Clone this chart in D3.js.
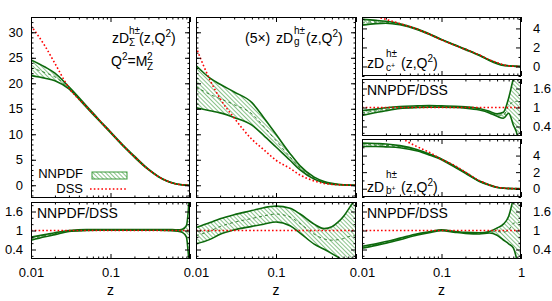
<!DOCTYPE html>
<html>
<head>
<meta charset="utf-8">
<script src="https://d3js.org/d3.v7.min.js"></script>
<style>
  body { margin: 0; background: #fff; }
  text { font-family: "Liberation Sans", Arial, sans-serif; fill: #000; }
</style>
</head>
<body>
<script>
// z grid shared by every curve
var zValues = [0.01, 0.015, 0.02, 0.03, 0.05, 0.07, 0.1, 0.15, 0.2, 0.3, 0.4, 0.5, 0.6, 0.7, 0.8, 0.9, 0.95, 1];

// singlet
var sigmaDSS     = [31.3, 27.3, 23.9, 19.1, 15.4, 12.95, 10.4, 7.5, 5.6, 3.1, 1.7, 0.9, 0.45, 0.2, 0.08, 0.02, 0.005, 0];
var sigmaHi      = [24.6, 23.2, 22.0, 19.3, 15.55, 13.05, 10.5, 7.6, 5.7, 3.15, 1.75, 0.93, 0.47, 0.21, 0.09, 0.03, 0.01, 0];
var sigmaLo      = [21.5, 21.0, 20.5, 18.9, 15.25, 12.85, 10.3, 7.4, 5.5, 3.05, 1.65, 0.87, 0.43, 0.19, 0.07, 0.015, 0.003, 0];
var sigmaRatioHi = [0.79, 0.87, 0.93, 1.0, 1.03, 1.03, 1.03, 1.03, 1.03, 1.03, 1.03, 1.03, 1.03, 1.02, 1.04, 1.15, 1.6, 2.5];
var sigmaRatioLo = [0.69, 0.8, 0.87, 0.97, 1.0, 1.01, 1.01, 1.01, 1.01, 1.01, 1.01, 1.0, 0.99, 0.98, 0.94, 0.8, 0.3, -0.5];

// gluon (x5)
var gluonDSS     = [27.1, 20.6, 17.0, 13.2, 9.0, 7.0, 4.9, 3.3, 2.0, 0.85, 0.35, 0.18, 0.1, 0.06, 0.03, 0.01, 0.005, 0];
var gluonHi      = [23.5, 21.0, 19.8, 18.3, 16.2, 13.3, 10.0, 6.2, 3.8, 1.6, 0.75, 0.38, 0.2, 0.1, 0.05, 0.02, 0.01, 0];
var gluonLo      = [15.2, 14.6, 14.2, 13.3, 11.8, 9.8, 7.5, 4.9, 3.0, 1.2, 0.5, 0.22, 0.1, 0.05, 0.02, 0.01, 0, 0];
var gluonRatioHi = [1.09, 1.25, 1.37, 1.5, 1.63, 1.72, 1.77, 1.7, 1.52, 1.2, 1.06, 1.12, 1.27, 1.45, 1.66, 1.85, 1.92, 1.95];
var gluonRatioLo = [0.58, 0.72, 0.88, 1.02, 1.13, 1.2, 1.27, 1.15, 0.92, 0.57, 0.41, 0.27, 0.15, 0.04, -0.05, -0.2, -0.25, -0.3];

// charm
var charmDSS     = [5.6, 5.25, 4.95, 4.5, 3.9, 3.4, 2.8, 2.2, 1.8, 1.2, 0.7, 0.4, 0.17, 0.08, 0.03, 0.01, 0.005, 0];
var charmHi      = [4.95, 4.85, 4.75, 4.5, 3.95, 3.45, 2.85, 2.25, 1.83, 1.2, 0.68, 0.36, 0.15, 0.08, 0.04, 0.02, 0.01, 0];
var charmLo      = [4.35, 4.5, 4.55, 4.38, 3.87, 3.38, 2.8, 2.2, 1.77, 1.15, 0.63, 0.3, 0.11, 0.06, 0.02, 0, -0.01, -0.02];
var charmRatioHi = [0.9, 0.95, 0.99, 1.03, 1.05, 1.06, 1.05, 1.04, 1.02, 0.97, 0.88, 0.8, 0.85, 1.3, 1.9, 2.3, 2.5, 2.6];
var charmRatioLo = [0.75, 0.84, 0.9, 0.97, 1.0, 1.01, 1.01, 1.0, 0.98, 0.92, 0.83, 0.72, 0.66, 0.82, 0.45, 0.1, -0.3, -0.5];

// bottom
var bottomDSS     = [11, 9.2, 8.0, 6.3, 5.05, 4.4, 3.55, 2.75, 2.0, 0.98, 0.46, 0.17, 0.07, 0.03, 0.01, 0.005, 0.002, 0];
var bottomHi      = [5.5, 5.45, 5.4, 5.2, 4.7, 4.2, 3.6, 2.65, 1.95, 0.93, 0.47, 0.18, 0.08, 0.04, 0.02, 0.01, 0.005, 0];
var bottomLo      = [5.1, 5.1, 5.05, 4.95, 4.55, 4.08, 3.5, 2.55, 1.85, 0.87, 0.42, 0.14, 0.05, 0.01, -0.01, -0.02, -0.02, -0.02];
var bottomRatioHi = [0.5, 0.58, 0.65, 0.76, 0.9, 0.96, 1.02, 0.97, 0.94, 0.93, 0.97, 1.08, 1.2, 1.45, 2.0, 2.5, 2.8, 3];
var bottomRatioLo = [0.44, 0.53, 0.6, 0.71, 0.86, 0.93, 0.99, 0.94, 0.91, 0.89, 0.92, 0.85, 0.7, 0.58, 0.45, 0, -0.3, -0.5];

// ticks
var xMajor = [0.01, 0.1, 1];
var xMinor = [0.02, 0.03, 0.04, 0.05, 0.06, 0.07, 0.08, 0.09, 0.2, 0.3, 0.4, 0.5, 0.6, 0.7, 0.8, 0.9];
var sigmaTicks = [0, 5, 10, 15, 20, 25, 30];
var sigmaMinor = d3.range(-2, 33, 1);
var ratioTicks = [0.4, 1, 1.6];
var ratioMinor = [0.2, 0.6, 0.8, 1.2, 1.4, 1.8];
var hqTicks = [0, 2, 4];
var hqMinor = [-1, 1, 3, 5];

var green = '#0c690c', hatchGreen = '#3b9a3b', red = '#ff0000';

var svg = d3.select('body').append('svg')
    .attr('width', 552)
    .attr('height', 301);
var defs = svg.append('defs');

var pat = defs.append('pattern')
    .attr('id', 'hatch')
    .attr('patternUnits', 'userSpaceOnUse')
    .attr('width', 3).attr('height', 3)
    .attr('patternTransform', 'rotate(-45)');
pat.append('line')
    .attr('x1', 0).attr('y1', 0).attr('x2', 0).attr('y2', 3)
    .attr('stroke', hatchGreen).attr('stroke-width', 1.2);

function makePanel(cfg) {
    var x = d3.scaleLog().domain([0.01, 1]).range([cfg.left, cfg.right]);
    var y = d3.scaleLinear().domain(cfg.yDomain).range([cfg.bottom, cfg.top]);

    defs.append('clipPath').attr('id', 'clip-' + cfg.id)
        .append('rect')
        .attr('x', cfg.left).attr('y', cfg.top)
        .attr('width', cfg.right - cfg.left).attr('height', cfg.bottom - cfg.top);

    var plot = svg.append('g').attr('clip-path', 'url(#clip-' + cfg.id + ')');
    var axes = svg.append('g');

    function ticks(axis, tr, vals, size, fmt, pad) {
        var a = axes.append('g').attr('transform', tr)
            .call(axis.tickValues(vals).tickSize(size).tickPadding(pad || 3)
                .tickFormat(fmt || function () { return ''; }));
        a.select('.domain').remove();
        a.attr('font-family', null).attr('font-size', 13);
        a.selectAll('line').attr('stroke', '#000');
        return a;
    }

    // x ticks
    ticks(d3.axisBottom(x), 'translate(0,' + cfg.bottom + ')', xMajor, -5, cfg.xLabels, 9);
    ticks(d3.axisBottom(x), 'translate(0,' + cfg.bottom + ')', xMinor, -2.5);
    ticks(d3.axisTop(x), 'translate(0,' + cfg.top + ')', xMajor, -5);
    ticks(d3.axisTop(x), 'translate(0,' + cfg.top + ')', xMinor, -2.5);

    // y ticks
    var fmtL = cfg.yLabels === 'left' ? d3.format('') : null;
    var fmtR = cfg.yLabels === 'right' ? d3.format('') : null;
    ticks(d3.axisLeft(y), 'translate(' + cfg.left + ',0)', cfg.yMajor, -5, fmtL, 8);
    ticks(d3.axisLeft(y), 'translate(' + cfg.left + ',0)', cfg.yMinor, -2.5);
    ticks(d3.axisRight(y), 'translate(' + cfg.right + ',0)', cfg.yMajor, -5, fmtR, 12);
    ticks(d3.axisRight(y), 'translate(' + cfg.right + ',0)', cfg.yMinor, -2.5);

    axes.append('rect')
        .attr('x', cfg.left + 0.5).attr('y', cfg.top + 0.5)
        .attr('width', cfg.right - cfg.left - 1).attr('height', cfg.bottom - cfg.top - 1)
        .attr('fill', 'none').attr('stroke', '#000').attr('stroke-width', 1);

    return { x: x, y: y, plot: plot, cfg: cfg };
}

function pts(vals) {
    return zValues.map(function (z, i) { return { z: z, v: vals[i] }; });
}

function drawBand(p, hi, lo) {
    var area = d3.area()
        .x(function (d) { return p.x(d.z); })
        .y0(function (d, i) { return p.y(lo[i]); })
        .y1(function (d) { return p.y(d.v); })
        .curve(d3.curveMonotoneX);
    var line = d3.line()
        .x(function (d) { return p.x(d.z); })
        .y(function (d) { return p.y(d.v); })
        .curve(d3.curveMonotoneX);
    p.plot.append('path').datum(pts(hi))
        .attr('d', area).attr('fill', 'url(#hatch)');
    var mid = hi.map(function (h, i) { return (h + lo[i]) / 2; });
    p.plot.append('path').datum(pts(mid))
        .attr('d', line).attr('fill', 'none').attr('stroke', green)
        .attr('stroke-width', 0.8).attr('stroke-dasharray', '3,3');
    [hi, lo].forEach(function (s) {
        p.plot.append('path').datum(pts(s))
            .attr('d', line).attr('fill', 'none')
            .attr('stroke', green).attr('stroke-width', 1.6);
    });
}

function drawDSS(p, vals) {
    var line = d3.line()
        .x(function (d) { return p.x(d.z); })
        .y(function (d) { return p.y(d.v); })
        .curve(d3.curveMonotoneX);
    p.plot.append('path').datum(pts(vals))
        .attr('d', line).attr('fill', 'none')
        .attr('stroke', red).attr('stroke-width', 1.6)
        .attr('stroke-dasharray', '1.6,2.2');
}

function drawUnity(p) {
    p.plot.append('line')
        .attr('x1', p.x(0.01)).attr('x2', p.x(1))
        .attr('y1', p.y(1)).attr('y2', p.y(1))
        .attr('stroke', red).attr('stroke-width', 1.6)
        .attr('stroke-dasharray', '1.6,2.2');
}

var labelsNoOne = function (d) { return d === 1 ? '' : String(d); };
var labelsAll = function (d) { return String(d); };

var pSigma = makePanel({ id: 's', left: 31, right: 190, top: 17, bottom: 198, yDomain: [-2.5, 33],
    yMajor: sigmaTicks, yMinor: sigmaMinor, yLabels: 'left' });
var pSigmaR = makePanel({ id: 'sr', left: 31, right: 190, top: 202, bottom: 259, yDomain: [0.1, 1.9],
    yMajor: ratioTicks, yMinor: ratioMinor, yLabels: 'left', xLabels: labelsNoOne });
var pGluon = makePanel({ id: 'g', left: 196, right: 356, top: 17, bottom: 198, yDomain: [-2.5, 33],
    yMajor: sigmaTicks, yMinor: sigmaMinor });
var pGluonR = makePanel({ id: 'gr', left: 196, right: 356, top: 202, bottom: 259, yDomain: [0.1, 1.9],
    yMajor: ratioTicks, yMinor: ratioMinor, xLabels: labelsNoOne });
var pCharm = makePanel({ id: 'c', left: 362, right: 521, top: 17, bottom: 76, yDomain: [-1, 5.2],
    yMajor: hqTicks, yMinor: hqMinor, yLabels: 'right' });
var pCharmR = makePanel({ id: 'cr', left: 362, right: 521, top: 79, bottom: 136, yDomain: [0.1, 1.9],
    yMajor: ratioTicks, yMinor: ratioMinor, yLabels: 'right' });
var pBottom = makePanel({ id: 'b', left: 362, right: 521, top: 139, bottom: 197, yDomain: [-1, 6],
    yMajor: hqTicks, yMinor: hqMinor, yLabels: 'right' });
var pBottomR = makePanel({ id: 'br', left: 362, right: 521, top: 202, bottom: 259, yDomain: [0.1, 1.9],
    yMajor: ratioTicks, yMinor: ratioMinor, yLabels: 'right', xLabels: labelsAll });

drawBand(pSigma, sigmaHi, sigmaLo);      drawDSS(pSigma, sigmaDSS);
drawBand(pSigmaR, sigmaRatioHi, sigmaRatioLo); drawUnity(pSigmaR);
drawBand(pGluon, gluonHi, gluonLo);      drawDSS(pGluon, gluonDSS);
drawBand(pGluonR, gluonRatioHi, gluonRatioLo); drawUnity(pGluonR);
drawBand(pCharm, charmHi, charmLo);      drawDSS(pCharm, charmDSS);
drawBand(pCharmR, charmRatioHi, charmRatioLo); drawUnity(pCharmR);
drawBand(pBottom, bottomHi, bottomLo);   drawDSS(pBottom, bottomDSS);
drawBand(pBottomR, bottomRatioHi, bottomRatioLo); drawUnity(pBottomR);

// text helpers
function txt(x, y, s, size, anchor) {
    return svg.append('text').attr('x', x).attr('y', y)
        .attr('font-size', size || 14).attr('text-anchor', anchor || 'start').text(s);
}
function withSq(x, y, before, after) {
    var t = svg.append('text').attr('x', x).attr('y', y).attr('font-size', 14);
    t.append('tspan').text(before);
    t.append('tspan').attr('dy', -6).attr('font-size', 10).text('2');
    t.append('tspan').attr('dy', 6).text(after);
}

// singlet title
txt(112, 43, 'zD');
txt(129, 34, 'h\u00b1', 10);
txt(129, 46, '\u03a3', 10);
withSq(139, 43, '(z,Q', ')');
withSq(111, 66, 'Q', '=M');
txt(147, 60, '2', 10);
txt(147, 70, 'Z', 10);

// gluon title
txt(245, 43, '(5\u00d7)');
txt(276, 43, 'zD');
txt(294, 34, 'h\u00b1', 10);
txt(294, 45, 'g', 10);
withSq(306, 43, '(z,Q', ')');

// charm title
txt(367, 68, 'zD');
txt(386, 57, 'h\u00b1', 10);
var cs = txt(386, 71, 'c', 10);
cs.append('tspan').attr('dy', -3).attr('font-size', 7).text('+');
withSq(401, 68, '(z,Q', ')');

// bottom title
txt(367, 192, 'zD');
txt(386, 178, 'h\u00b1', 10);
var bs = txt(386, 194, 'b', 10);
bs.append('tspan').attr('dy', -3).attr('font-size', 7).text('+');
withSq(401, 192, '(z,Q', ')');

// ratio labels
txt(37, 218, 'NNPDF/DSS');
txt(367, 95, 'NNPDF/DSS');
txt(367, 218, 'NNPDF/DSS');

// legend
txt(83, 178, 'NNPDF', 13, 'end');
txt(83, 193, 'DSS', 13, 'end');
svg.append('rect').attr('x', 92).attr('y', 172).attr('width', 35).attr('height', 7)
    .attr('fill', 'url(#hatch)').attr('stroke', hatchGreen).attr('stroke-width', 1);
svg.append('line').attr('x1', 90).attr('x2', 126).attr('y1', 189).attr('y2', 189)
    .attr('stroke', red).attr('stroke-width', 1.6).attr('stroke-dasharray', '1.6,2.2');

// x axis titles
txt(110.5, 295, 'z', 14, 'middle');
txt(276, 295, 'z', 14, 'middle');
txt(441.5, 295, 'z', 14, 'middle');
</script>
</body>
</html>
